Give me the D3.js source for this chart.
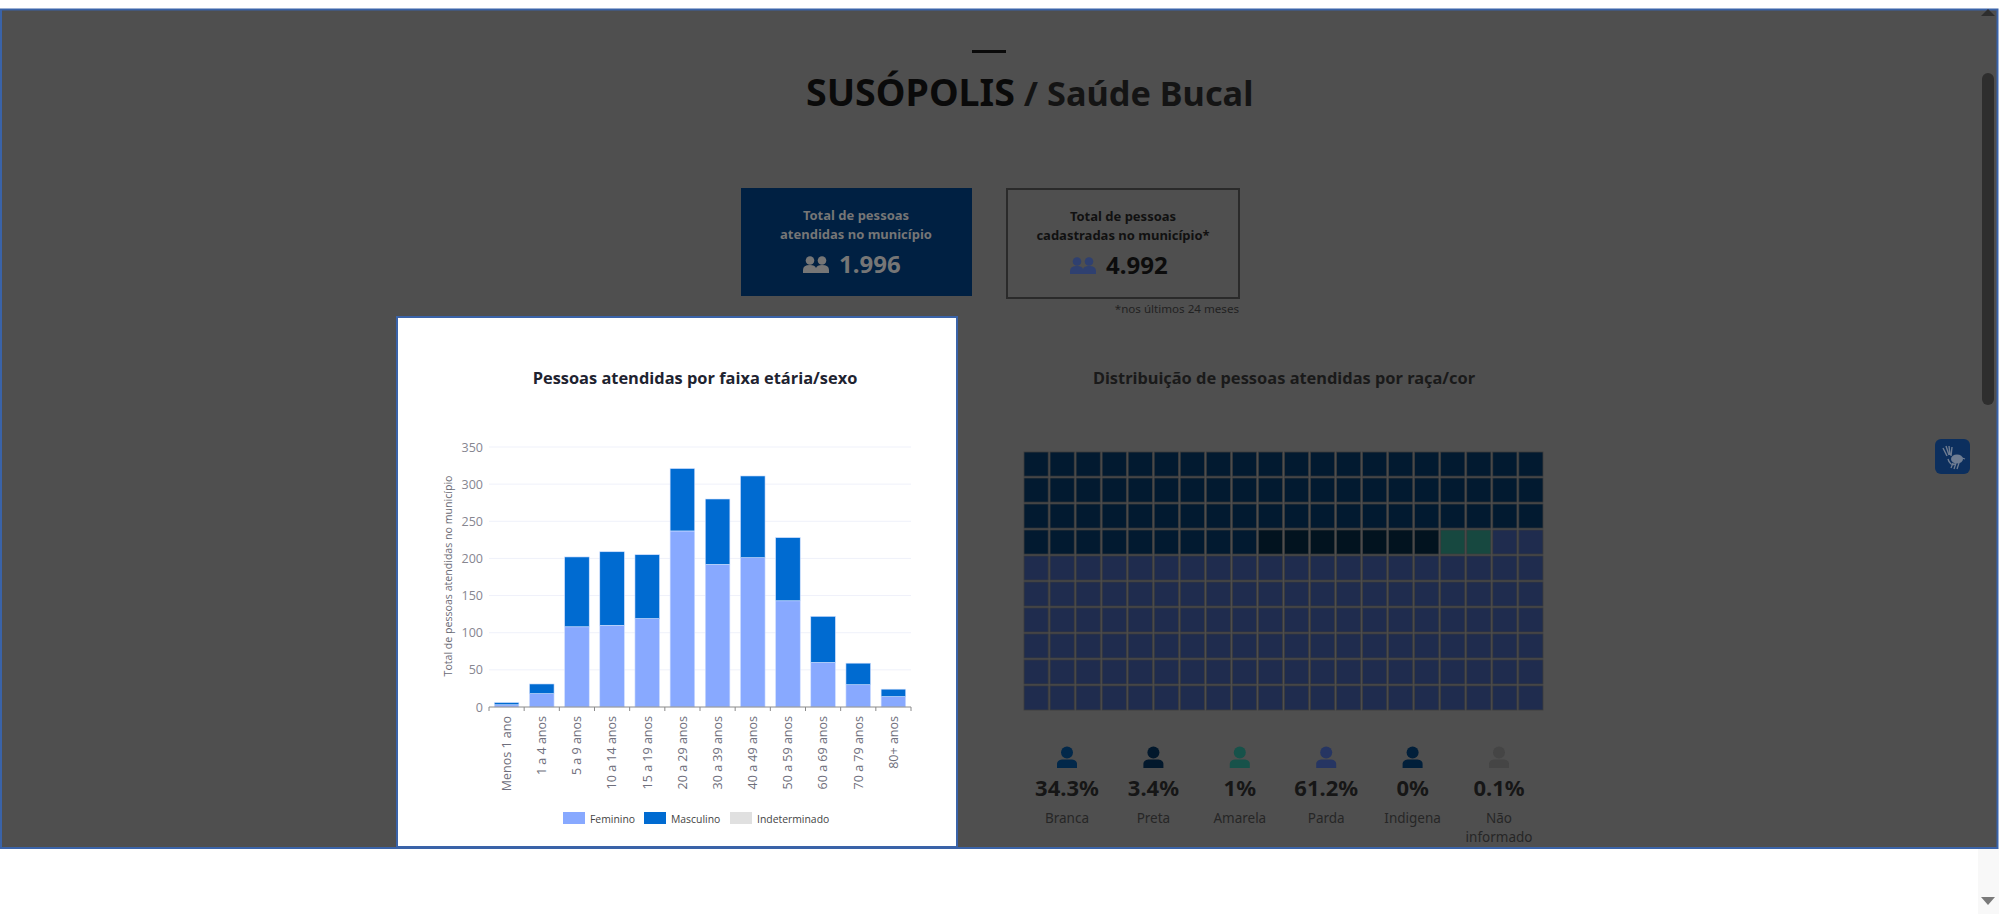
<!DOCTYPE html>
<html lang="pt-BR">
<head>
<meta charset="utf-8">
<title>Saúde Bucal</title>
<script src="https://cdn.jsdelivr.net/npm/d3@7"></script>
<style>
  html, body { margin: 0; padding: 0; background: #fff; overflow: hidden; }
  svg { display: block; }
  text { font-family: "Noto Sans", sans-serif; }
  .chart text { font-family: "Open Sans", sans-serif; }
  .axis path { display: none; }
  .axis line { display: none; }
</style>
</head>
<body>
<div id="page"></div>
<script>
const faixas = ['Menos 1 ano', '1 a 4 anos', '5 a 9 anos', '10 a 14 anos', '15 a 19 anos', '20 a 29 anos',
  '30 a 39 anos', '40 a 49 anos', '50 a 59 anos', '60 a 69 anos', '70 a 79 anos', '80+ anos'];
const feminino = [3, 18, 108, 110, 119, 237, 192, 201, 143, 60, 30, 14];
const masculino = [3, 13, 94, 99, 86, 84, 88, 110, 85, 62, 29, 10];
const indeterminado = [0, 0, 0, 0, 0, 0, 0, 0, 0, 0, 0, 0];
const yTicks = [0, 50, 100, 150, 200, 250, 300, 350];

const sexos = ['Feminino', 'Masculino', 'Indeterminado'];
const sexoCores = ['#88a9ff', '#006bd1', '#e0e0e0'];

const racas = ['Branca', 'Preta', 'Amarela', 'Parda', 'Indigena', 'Não informado'];
const racaPct = ['34.3%', '3.4%', '1%', '61.2%', '0%', '0.1%'];
const racaCelulas = [69, 7, 2, 122, 0, 0];
const racaCelulaCores = ['#021a30', '#02131f', '#174840', '#1f2c4e', '#01223f', '#454545'];
const racaIconeCores = ['#02284a', '#02182c', '#17524a', '#263562', '#011f3a', '#454545'];

const svg = d3.select('#page').append('svg').attr('width', 1999).attr('height', 914);

// fundo escurecido do modal
svg.append('rect').attr('x', 0).attr('y', 0).attr('width', 1999).attr('height', 914).attr('fill', '#fff');
svg.append('rect').attr('x', 1978).attr('y', 848).attr('width', 21).attr('height', 66).attr('fill', '#f8f8f8');
svg.append('rect').attr('x', 1).attr('y', 9.5).attr('width', 1996.5).attr('height', 838.5)
  .attr('fill', '#4f4f4f').attr('stroke', '#3a63a8').attr('stroke-width', 2);

// barra de rolagem
svg.append('rect').attr('x', 1982).attr('y', 73).attr('width', 12).attr('height', 332).attr('rx', 6)
  .attr('fill', '#2e2e2e');
svg.append('path').attr('d', 'M1981,16 L1995,16 L1988,9 Z').attr('fill', '#2e2e2e');
svg.append('path').attr('d', 'M1981,897 L1995,897 L1988,905 Z').attr('fill', '#7a7a7a');

// cabecalho
svg.append('rect').attr('x', 972).attr('y', 50).attr('width', 34).attr('height', 3).attr('fill', '#0a0a0a');
const titulo = svg.append('text').attr('x', 806).attr('y', 106).attr('font-size', 37.6).attr('font-weight', 700);
titulo.append('tspan').attr('fill', '#0a0a0a').text('SUSÓPOLIS');
titulo.append('tspan').attr('fill', '#141414').attr('font-size', 34.3).text(' / Saúde Bucal');

// caixas de totais
const peopleIcon = (g, x, y, cor) => {
  g.append('circle').attr('cx', x + 7).attr('cy', y + 4.5).attr('r', 4.3).attr('fill', cor);
  g.append('circle').attr('cx', x + 19).attr('cy', y + 4.5).attr('r', 4.3).attr('fill', cor);
  g.append('path').attr('d', `M${x},${y + 17} v-3 q0,-5 7,-5 q5,0 6,3 q1,-3 6,-3 q7,0 7,5 v3 Z`).attr('fill', cor);
};

svg.append('rect').attr('x', 741).attr('y', 188).attr('width', 231).attr('height', 108).attr('fill', '#002042');
svg.append('rect').attr('x', 1007).attr('y', 189).attr('width', 232).attr('height', 109)
  .attr('fill', 'none').attr('stroke', '#2a2a2a').attr('stroke-width', 2);

const caixas = [
  { cx: 856, dy: 0, cor: '#767676', icone: '#767676', l1: 'Total de pessoas', l2: 'atendidas no município', n: '1.996', nCor: '#767676' },
  { cx: 1123, dy: 1, cor: '#111', icone: '#2f4070', l1: 'Total de pessoas', l2: 'cadastradas no município*', n: '4.992', nCor: '#0c0c0c' }
];
caixas.forEach(c => {
  const g = svg.append('g');
  g.append('text').attr('x', c.cx).attr('y', 220 + c.dy).attr('text-anchor', 'middle').attr('font-size', 13)
    .attr('font-weight', 700).attr('fill', c.cor).text(c.l1);
  g.append('text').attr('x', c.cx).attr('y', 239 + c.dy).attr('text-anchor', 'middle').attr('font-size', 13)
    .attr('font-weight', 700).attr('fill', c.cor).text(c.l2);
  peopleIcon(g, c.cx - 53, 256 + c.dy, c.icone);
  g.append('text').attr('x', c.cx - 17).attr('y', 273 + c.dy).attr('font-size', 24)
    .attr('font-weight', 700).attr('fill', c.nCor).text(c.n);
});
svg.append('text').attr('x', 1239).attr('y', 313).attr('text-anchor', 'end').attr('font-size', 11.6)
  .attr('fill', '#222').text('*nos últimos 24 meses');

// cartao branco do grafico
svg.append('rect').attr('x', 397).attr('y', 317).attr('width', 560).attr('height', 530)
  .attr('fill', '#fff').attr('stroke', '#3a63a8').attr('stroke-width', 2);

const chart = svg.append('g').attr('class', 'chart');
chart.append('text').attr('x', 695).attr('y', 384).attr('text-anchor', 'middle').attr('font-size', 16.4)
  .attr('font-weight', 700).attr('fill', '#1e2330').text('Pessoas atendidas por faixa etária/sexo');

const x = d3.scaleBand().domain(faixas).range([489, 911]).paddingInner(0.3).paddingOuter(0.15);
const y = d3.scaleLinear().domain([0, 350]).range([707, 447]);

chart.append('g').selectAll('line').data(yTicks.slice(1)).join('line')
  .attr('x1', 489).attr('x2', 911)
  .attr('y1', d => y(d)).attr('y2', d => y(d))
  .attr('stroke', '#eff1fa').attr('stroke-width', 1);

const linhas = faixas.map((f, i) => ({ faixa: f, Feminino: feminino[i], Masculino: masculino[i], Indeterminado: indeterminado[i] }));
const pilhas = d3.stack().keys(sexos)(linhas);

chart.append('g').selectAll('g').data(pilhas).join('g')
  .attr('fill', (d, i) => sexoCores[i])
  .selectAll('rect').data(d => d).join('rect')
  .attr('x', d => x(d.data.faixa))
  .attr('y', d => y(d[1]))
  .attr('width', x.bandwidth())
  .attr('height', d => y(d[0]) - y(d[1]))
  .attr('stroke', d => d[1] > d[0] ? '#d3e0ff' : 'none')
  .attr('stroke-width', 0.6);

const yAxis = chart.append('g').attr('class', 'axis').attr('transform', 'translate(483,0)')
  .call(d3.axisLeft(y).tickValues(yTicks).tickSize(0).tickPadding(0));
yAxis.selectAll('text').attr('font-size', 12.5).attr('fill', '#868690').attr('font-family', '"Open Sans", sans-serif');

const xAxis = chart.append('g').attr('class', 'axis').attr('transform', 'translate(0,707)')
  .call(d3.axisBottom(x).tickSize(0).tickPadding(0));
xAxis.selectAll('text')
  .attr('transform', 'rotate(-90)')
  .attr('x', -9).attr('y', 0).attr('dy', '0.35em')
  .attr('text-anchor', 'end')
  .attr('font-size', 12.5).attr('fill', '#6f6f7c').attr('font-family', '"Open Sans", sans-serif');

// eixo x com marcas nas bordas das faixas
chart.append('line').attr('x1', 489).attr('x2', 911).attr('y1', 707).attr('y2', 707).attr('stroke', '#8a8a8a');
chart.append('g').selectAll('line').data(faixas.concat('fim')).join('line')
  .attr('x1', (d, i) => x.range()[0] + i * x.step())
  .attr('x2', (d, i) => x.range()[0] + i * x.step())
  .attr('y1', 707).attr('y2', 711)
  .attr('stroke', '#8a8a8a');

chart.append('text').attr('transform', 'translate(452,576) rotate(-90)').attr('text-anchor', 'middle')
  .attr('font-size', 10.6).attr('fill', '#6a6a74').text('Total de pessoas atendidas no município');

const legendaX = [563, 644, 730];
const legenda = chart.append('g').selectAll('g').data(sexos).join('g')
  .attr('transform', (d, i) => `translate(${legendaX[i]},812)`);
legenda.append('rect').attr('width', 22).attr('height', 12).attr('fill', (d, i) => sexoCores[i]);
legenda.append('text').attr('x', 27).attr('y', 10.5).attr('font-size', 10.4).attr('fill', '#444').text(d => d);

// waffle de raca/cor
svg.append('text').attr('x', 1284).attr('y', 384).attr('text-anchor', 'middle').attr('font-size', 16.4)
  .attr('font-weight', 700).attr('fill', '#1a1a1a').text('Distribuição de pessoas atendidas por raça/cor');

const celulas = racaCelulas.flatMap((n, r) => d3.range(n).map(() => r));
const xCel = d3.scaleBand().domain(d3.range(20)).range([1024, 1543]).paddingInner(0.07);
const yCel = d3.scaleBand().domain(d3.range(10)).range([452, 710]).paddingInner(0.07);

svg.append('g').selectAll('rect').data(celulas).join('rect')
  .attr('x', (d, i) => xCel(i % 20))
  .attr('y', (d, i) => yCel(Math.floor(i / 20)))
  .attr('width', xCel.bandwidth())
  .attr('height', yCel.bandwidth())
  .attr('fill', d => racaCelulaCores[d])
  .attr('stroke', '#3c3c3c').attr('stroke-width', 0.8);

// legenda de raca/cor
const xRaca = d3.scalePoint().domain(racas).range([1067, 1499]);
const itens = svg.append('g').selectAll('g').data(racas).join('g')
  .attr('transform', d => `translate(${xRaca(d)},0)`);
itens.append('circle').attr('cx', 0).attr('cy', 752.5).attr('r', 6).attr('fill', (d, i) => racaIconeCores[i]);
itens.append('path').attr('d', 'M-10,768 v-4 q0,-4 5,-4.5 h10 q5,0.5 5,4.5 v4 Z').attr('fill', (d, i) => racaIconeCores[i]);
itens.append('text').attr('y', 796).attr('text-anchor', 'middle').attr('font-size', 22).attr('font-weight', 700)
  .attr('fill', '#161616').text((d, i) => racaPct[i]);
itens.append('text').attr('y', 823).attr('text-anchor', 'middle').attr('font-size', 13.5).attr('fill', '#262626')
  .text(d => d === 'Não informado' ? 'Não' : d);
itens.filter(d => d === 'Não informado').append('text').attr('y', 842).attr('text-anchor', 'middle')
  .attr('font-size', 13.5).attr('fill', '#262626').text('informado');

// botao de libras
svg.append('rect').attr('x', 1935).attr('y', 439).attr('width', 35).attr('height', 35).attr('rx', 6).attr('fill', '#0c2f5e');
svg.append('path')
  .attr('d', 'M1943,448 L1947,456 M1946,446 L1949,455 M1949,446 L1950,455 M1952,447 L1951,456 M1948,459 Q1950,466 1955,464')
  .attr('fill', 'none').attr('stroke', '#6f7d92').attr('stroke-width', 1.4);
svg.append('ellipse').attr('cx', 1957).attr('cy', 459).attr('rx', 6).attr('ry', 4.5).attr('fill', '#6f7d92');
svg.append('path')
  .attr('d', 'M1953,463 L1951,468 M1956,463 L1954,469 M1959,463 L1957,469 M1962,458 L1965,459')
  .attr('fill', 'none').attr('stroke', '#6f7d92').attr('stroke-width', 1.3);
</script>
</body>
</html>
